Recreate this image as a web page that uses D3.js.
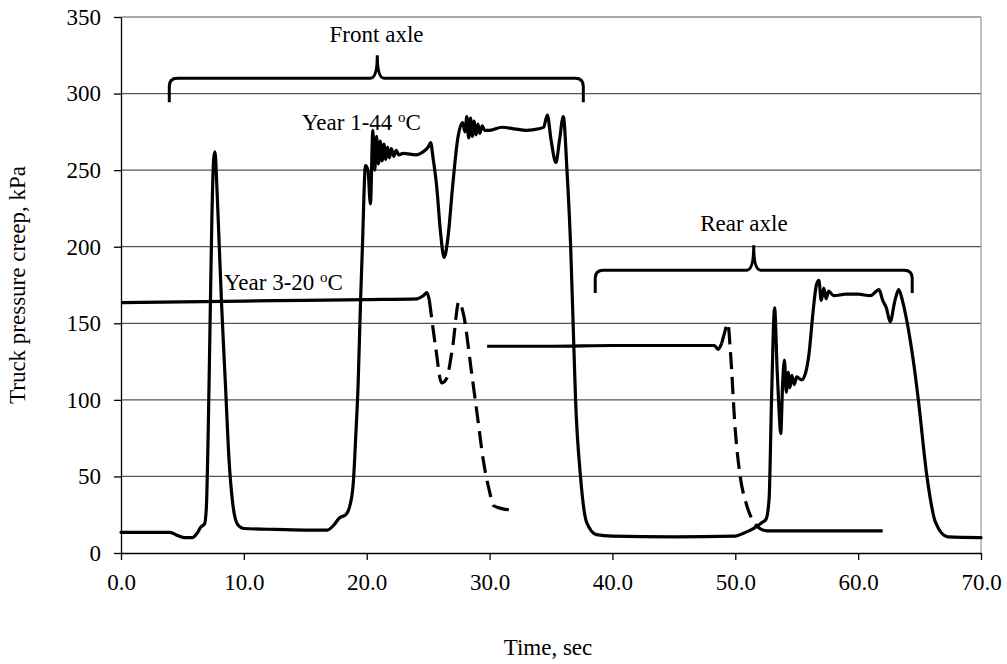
<!DOCTYPE html>
<html>
<head>
<meta charset="utf-8">
<script src="https://cdn.jsdelivr.net/npm/d3@7"></script>
<style>
  html, body { margin: 0; padding: 0; background: #fff; }
  svg text { font-family: "Liberation Serif", "Times New Roman", serif; fill: #000; }
</style>
</head>
<body>
<svg id="chart" width="1007" height="664"></svg>
<script>
// ---------------- DATA ----------------
const xTicks = [0, 10, 20, 30, 40, 50, 60, 70];
const yTicks = [0, 50, 100, 150, 200, 250, 300, 350];

// Year 1 - 44 oC (solid), [time sec, pressure kPa]
const year1Time = [0, 4.0, 4.6, 5.2, 5.8, 6.2, 6.5, 6.8, 6.95, 7.1, 7.25, 7.4, 7.55, 7.65, 7.8, 8.0, 8.2, 8.5, 8.8, 9.1, 9.4, 9.7, 10.0, 12, 15, 16.8, 17.3, 17.8, 18.3, 18.6, 18.9, 19.1, 19.3, 19.5, 19.65, 19.9, 20.1, 20.3, 20.5, 20.65, 20.8, 20.95, 21.1, 21.25, 21.4, 21.55, 21.7, 21.85, 22.0, 22.2, 22.4, 22.6, 23, 24, 24.6, 25.0, 25.2, 25.4, 25.7, 26.0, 26.3, 26.6, 27.0, 27.4, 27.8, 28.0, 28.15, 28.3, 28.45, 28.6, 28.75, 28.9, 29.05, 29.2, 29.4, 29.6, 30, 31, 32, 33, 34, 34.4, 34.7, 35.0, 35.4, 35.7, 36.0, 36.3, 36.6, 36.8, 37.0, 37.4, 37.9, 38.7, 40, 45, 50, 50.7, 51.5, 52.2, 52.5, 52.75, 52.95, 53.2, 53.4, 53.55, 53.7, 53.85, 54.0, 54.15, 54.3, 54.45, 54.6, 54.8, 55.0, 55.4, 55.7, 56.0, 56.3, 56.6, 56.8, 57.0, 57.2, 57.4, 57.6, 58, 59, 60, 61, 61.7, 62.0, 62.3, 62.6, 63.0, 63.3, 63.6, 64.0, 64.5, 64.9, 65.6, 66.3, 67.3, 70];
const year1Value = [13.5, 13.5, 11.5, 10, 10, 13, 17, 19, 30, 80, 150, 220, 258, 262, 240, 200, 160, 110, 60, 32, 20, 17, 16, 15.5, 15, 15, 18, 23, 25, 30, 45, 75, 110, 165, 200, 253, 250, 228, 276, 250, 272, 254, 269, 256, 267, 257, 265, 258, 264, 259, 263, 260, 261, 260, 262, 265, 268, 258, 239, 210, 193, 205, 240, 270, 281, 275, 285, 271, 284, 272, 282, 273, 280, 274, 279, 276, 276, 278, 277, 276, 277, 278, 286, 270, 255, 270, 285, 250, 200, 150, 100, 50, 20, 12, 11, 10.5, 11, 13, 16, 20, 22, 35, 100, 160, 121, 95, 78, 110, 126, 105, 118, 108, 116, 110, 115, 113, 117, 130, 155, 175, 178, 165, 173, 166, 171, 168, 169, 169, 168, 172, 165, 160, 151, 165, 172, 165, 150, 125, 100, 50, 20, 10.5, 10];

// Year 3 - 20 oC, front axle
const year3FrontTime = [0, 5, 10, 15, 20, 24.1, 24.6, 24.9, 25.1, 25.6, 26.1, 26.5, 27.0, 27.5, 27.9, 28.5, 29.0, 29.5, 30.0, 30.3, 31.0, 31.9];
const year3FrontValue = [163.5, 164, 164.5, 165, 165.5, 166, 168, 170, 165, 135, 111, 114, 135, 164, 155, 120, 90, 60, 40, 31, 29, 28];

// Year 3 - 20 oC, rear axle
const year3RearTime = [29.8, 35, 40, 45, 48.3, 48.6, 48.9, 49.1, 49.4, 49.6, 50.0, 50.4, 50.9, 51.4, 52.0, 52.5, 55, 62.0];
const year3RearValue = [135, 135, 135.5, 135.5, 135.5, 133, 137, 143, 150, 132, 80, 50, 32, 21.5, 16, 14.5, 14.5, 14.5];

// time intervals where the Year 3 trace is drawn dashed
const year3DashedFrom = [25.1, 48.9];
const year3DashedTo = [32, 52.5];

// ---------------- CHART ----------------
const svg = d3.select("#chart");
const x = d3.scaleLinear().domain([0, 70]).range([121, 981]);
const y = d3.scaleLinear().domain([0, 350]).range([553, 17]);
const FS = 23;

// gridlines
svg.append("g").selectAll("line").data(yTicks.filter(d => d > 0)).join("line")
  .attr("x1", x(0)).attr("x2", x(70))
  .attr("y1", d => y(d)).attr("y2", d => y(d))
  .attr("stroke", "#555").attr("stroke-width", 1.2);

// right border
svg.append("line").attr("x1", x(70)).attr("x2", x(70)).attr("y1", y(350)).attr("y2", y(0))
  .attr("stroke", "#999").attr("stroke-width", 1.2);

// axes
const xAxis = d3.axisBottom(x).tickValues(xTicks).tickFormat(d3.format(".1f")).tickSizeInner(7).tickSizeOuter(0).tickPadding(14);
const gx = svg.append("g").attr("transform", `translate(0,${y(0)})`).call(xAxis);
const yAxis = d3.axisLeft(y).tickValues(yTicks).tickSizeInner(7).tickSizeOuter(0).tickPadding(13);
const gy = svg.append("g").attr("transform", `translate(${x(0)},0)`).call(yAxis);
[gx, gy].forEach(g => {
  g.selectAll("path.domain").attr("stroke", "#000").attr("stroke-width", 1.3);
  g.selectAll(".tick line").attr("stroke", "#000").attr("stroke-width", 1.3);
  g.selectAll(".tick text").attr("font-size", FS).attr("font-family", "Liberation Serif").attr("fill", "#000");
});

// axis titles
svg.append("text").attr("x", 548).attr("y", 655).attr("text-anchor", "middle")
  .attr("font-size", FS).text("Time, sec");
svg.append("text").attr("transform", "translate(25,285) rotate(-90)").attr("text-anchor", "middle")
  .attr("font-size", FS).text("Truck pressure creep, kPa");

// lines
const line = d3.line().x(d => x(d[0])).y(d => y(d[1])).curve(d3.curveMonotoneX);
const zip = (t, v) => t.map((d, i) => [d, v[i]]);

const year1 = zip(year1Time, year1Value);
svg.append("path").datum(year1).attr("d", line)
  .attr("fill", "none").attr("stroke", "#000").attr("stroke-width", 3.2)
  .attr("stroke-linejoin", "round").attr("stroke-linecap", "round");

function drawYear3(pts) {
  const isDashed = t => year3DashedFrom.some((a, i) => t >= a && t <= year3DashedTo[i]);
  let runs = [];
  let cur = null;
  for (let i = 0; i < pts.length - 1; i++) {
    const segDashed = isDashed(pts[i][0]) && isDashed(pts[i + 1][0]);
    if (!cur || cur.dashed !== segDashed) {
      cur = { dashed: segDashed, pts: [pts[i]] };
      runs.push(cur);
    }
    cur.pts.push(pts[i + 1]);
  }
  runs.forEach(r => {
    svg.append("path").datum(r.pts).attr("d", line)
      .attr("fill", "none").attr("stroke", "#000").attr("stroke-width", 3.2)
      .attr("stroke-linejoin", "round")
      .attr("stroke-dasharray", r.dashed ? "17,8" : null);
  });
}
drawYear3(zip(year3FrontTime, year3FrontValue));
drawYear3(zip(year3RearTime, year3RearValue));

// braces
function brace(t0, t1, tm, vBase, vTop, vPeak) {
  const x0 = x(t0), x1 = x(t1), xm = x(tm);
  const yb = y(vBase), yt = y(vTop), yp = y(vPeak);
  const r = 8;
  const p = d3.path();
  p.moveTo(x0, yb);
  p.lineTo(x0, yt + r);
  p.quadraticCurveTo(x0, yt, x0 + r, yt);
  p.lineTo(xm - 7, yt);
  p.quadraticCurveTo(xm, yt, xm, yp);
  p.quadraticCurveTo(xm, yt, xm + 7, yt);
  p.lineTo(x1 - r, yt);
  p.quadraticCurveTo(x1, yt, x1, yt + r);
  p.lineTo(x1, yb);
  svg.append("path").attr("d", p.toString()).attr("fill", "none")
    .attr("stroke", "#000").attr("stroke-width", 3);
}
brace(3.93, 37.63, 20.86, 294.4, 310, 325);
brace(38.6, 64.4, 51.5, 169.7, 184.7, 201);

// annotations
svg.append("text").attr("x", x(20.8)).attr("y", 42).attr("text-anchor", "middle")
  .attr("font-size", FS).text("Front axle");
svg.append("text").attr("x", x(50.7)).attr("y", 231).attr("text-anchor", "middle")
  .attr("font-size", FS).text("Rear axle");

function tempLabel(px, py, main) {
  const t = svg.append("text").attr("x", px).attr("y", py).attr("font-size", FS);
  t.append("tspan").text(main + " ");
  t.append("tspan").attr("font-size", 15).attr("dy", -8).text("o");
  t.append("tspan").attr("dy", 8).text("C");
}
tempLabel(302, 130, "Year 1-44");
tempLabel(224, 290, "Year 3-20");
</script>
</body>
</html>
